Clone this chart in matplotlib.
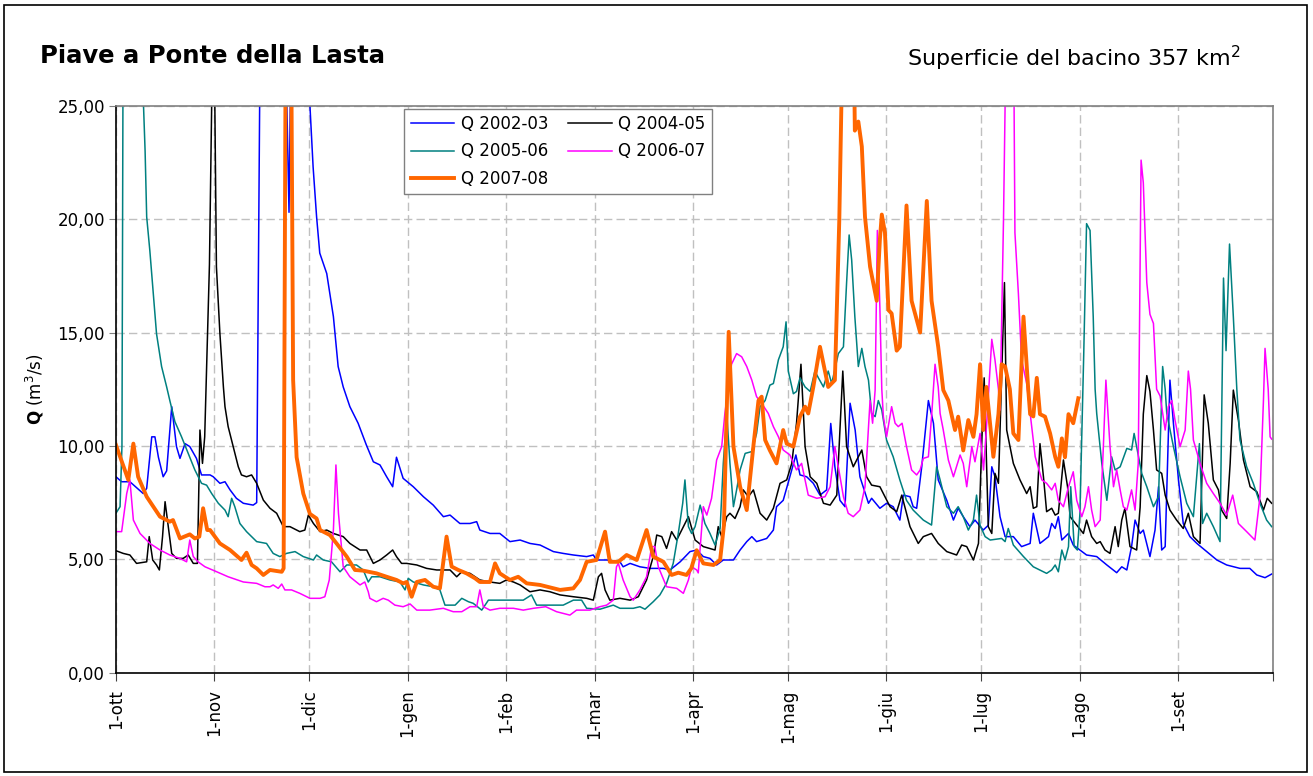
"""Daily discharge of the Piave at Ponte della Lasta, five hydrological years."""
import matplotlib.pyplot as plt
from matplotlib.patches import Rectangle
from matplotlib.ticker import FuncFormatter

# month starts of the hydrological year (days from 1 October)
MONTH_DAYS = [0, 31, 61, 92, 123, 151, 182, 212, 243, 273, 304, 335]
MONTH_LABELS = ['1-ott', '1-nov', '1-dic', '1-gen', '1-feb', '1-mar',
                '1-apr', '1-mag', '1-giu', '1-lug', '1-ago', '1-set']

# Q 2002-03
DAY_0203 = [0, 1.8, 4.4, 8.6, 9.7, 11.3, 12.3, 13.4, 14.9, 16, 17.6, 19.1, 20.2, 21.8,
            23.3, 25.4, 27, 29.7, 30.7, 32.8, 34.4, 36, 38, 40.2, 43.3, 44.4, 45.6, 53.2,
            54.6, 55.4, 60.6, 61.2, 62.2, 63.3, 64.3, 66.5, 68.6, 70.1, 71.7, 73.8, 76.4,
            79, 81.2, 83.3, 85.4, 87.3, 88.5, 90.6, 93.8, 97, 100.1, 103.3, 105.4, 108.5,
            111.7, 113.8, 114.8, 118, 121.1, 124.3, 127.5, 130.6, 133.8, 138, 141.1, 144.3,
            148.5, 150.6, 151.6, 154.8, 159, 160, 162.2, 165.3, 168.5, 172.7, 174.8, 178,
            181.1, 183.2, 185.3, 187.4, 189.5, 191.6, 194.8, 196.9, 199, 200.6, 202.1,
            205.3, 207.4, 208.4, 210.5, 212.6, 214.5, 215.8, 217.9, 220, 222.1, 224.2,
            225.5, 226.8, 228.4, 230, 231.6, 233.2, 234.7, 237.4, 238.4, 241, 243.1, 245.2,
            247.3, 248.4, 250.5, 251.5, 252.6, 254.2, 256.3, 257.9, 259.4, 262.1, 264.2,
            265.7, 267.3, 269.4, 271, 273.6, 275.2, 276.3, 277.3, 278.9, 280.5, 283.1,
            285.7, 288.4, 289.4, 291.5, 294.2, 295.2, 296.3, 297.3, 298.4, 300.5, 302,
            304.1, 306.2, 309.4, 312.6, 315.7, 317.3, 318.9, 320.4, 321.5, 323.1, 324.1,
            326.2, 327.8, 328.9, 329.9, 331, 332.5, 333.6, 335.2, 336.7, 338.8, 341, 344.1,
            347.3, 350.4, 354.6, 357.7, 359.9, 362.5, 364.6]
Q_0203 = [8.64, 8.42, 8.42, 7.9, 8.13, 10.4, 10.4, 9.5, 8.64, 8.9, 11.73, 9.97, 9.45, 10.1,
          9.97, 9.45, 8.72, 8.72, 8.64, 8.35, 8.42, 8.06, 7.69, 7.47, 7.39, 7.5, 30, 30,
          20.3, 30, 30, 25, 22.3, 20.1, 18.5, 17.6, 15.7, 13.5, 12.6, 11.73, 11.0,
          10.04, 9.3, 9.16, 8.64, 8.2, 9.5, 8.57, 8.2, 7.76, 7.39, 6.88, 6.95, 6.58,
          6.58, 6.66, 6.29, 6.14, 6.14, 5.78, 5.85, 5.7, 5.63, 5.34, 5.26, 5.19,
          5.12, 5.19, 4.97, 4.97, 4.89, 4.67, 4.82, 4.67, 4.6, 4.6, 4.53, 4.89,
          5.34, 5.41, 5.12, 5.04, 4.75, 4.97, 4.97, 5.41, 5.78, 6.0, 5.78,
          5.92, 6.29, 7.32, 7.6, 8.64, 9.6, 8.72, 8.64, 8.35, 7.83, 8.06,
          10.99, 9.08, 7.6, 7.32, 11.88, 10.7, 8.64, 7.47, 7.69, 7.25, 7.47, 7.32,
          6.73, 7.83, 7.76, 7.32, 7.25, 9.08, 12.0, 11.0, 8.5, 7.6, 6.73,
          7.25, 6.88, 6.44, 6.73, 6.29, 6.5, 9.08, 8.64, 6.88, 6.0, 6.0,
          5.56, 5.7, 7.03, 5.7, 6.0, 6.58, 6.36, 6.88, 5.85, 6.14, 5.63,
          5.41, 5.19, 5.12, 4.75, 4.41, 4.67, 4.53, 5.56, 6.73, 6.14, 6.29,
          5.12, 6.29, 8.2, 5.41, 5.56, 12.9, 11.0, 8.5, 6.58, 6.0, 5.7, 5.34,
          4.97, 4.75, 4.6, 4.6, 4.31, 4.19, 4.35]

# Q 2004-05
DAY_0405 = [0, 2.3, 4.4, 6.5, 9.7, 10.5, 11.6, 12.8, 13.7, 14.7, 15.5, 16.5, 17.6, 19.1,
            21.2, 22.8, 24.4, 25.7, 26.5, 27.3, 28.0, 29.5, 30.4, 31.2, 31.7, 32.8, 33.9,
            34.4, 35.4, 37, 38.6, 39.6, 41.2, 42.8, 44.4, 46.5, 48.6, 50.7, 52.8, 54.9, 58,
            59.6, 60.7, 62.3, 64.4, 66.5, 68.6, 71.7, 73.8, 77, 79.1, 81.2, 83.3, 85.4,
            87.3, 88.5, 90.1, 91.7, 94.9, 98, 101.2, 105.4, 107.5, 109.1, 111.7, 114.8,
            118, 121.1, 123.2, 125.4, 127.5, 130.6, 133.8, 136.9, 140.1, 144.3, 148.5,
            150.6, 152.2, 153.2, 154.3, 155.8, 159, 162.2, 164.8, 167.4, 169.5, 170.6,
            172.2, 173.7, 175.3, 176.9, 179, 180.6, 182.7, 185.3, 189, 190, 191.1, 192.7,
            193.7, 195.3, 196.9, 197.9, 199.5, 201.1, 203.2, 205.3, 207.4, 209.5, 211.6,
            213.2, 214.7, 216.1, 217.4, 219, 221.1, 223.2, 225.3, 227.4, 229.3, 230.5,
            232.6, 235.3, 236.8, 238.4, 241, 242.6, 244.2, 246.3, 247.9, 250.5, 253.1,
            254.7, 257.3, 259.4, 262.1, 265.2, 266.8, 268.4, 270.5, 272.1, 273.1, 273.9,
            275.2, 276.3, 277.3, 278.4, 280.3, 281, 283.1, 285.2, 287.3, 288.4, 289.4,
            290.5, 291.5, 292.6, 293.6, 295.2, 296.3, 297.3, 298.9, 300.2, 301, 303.1,
            305.2, 306.2, 307.8, 309.4, 310.5, 312, 313.6, 315.2, 316.2, 317.3, 318.3,
            319.9, 322, 323.1, 324.1, 325.2, 326.2, 327.3, 328.3, 329.9, 331, 332.5, 334.6,
            336.7, 338.3, 339.9, 342, 343.3, 344.6, 346.2, 347.8, 348.8, 350.4, 351.5,
            352.5, 354.1, 355.7, 357.8, 359.9, 362, 363.2, 364.6]
Q_0405 = [5.38, 5.26, 5.19, 4.82, 4.89, 6.0, 4.97, 4.75, 4.53, 6.0, 7.54, 6.44, 5.26, 5.04,
          5.04, 5.19, 4.82, 4.82, 10.7, 9.23, 10.4, 18, 27, 25, 17.9, 14.95, 12.6,
          11.73, 10.85, 9.97, 9.08, 8.72, 8.64, 8.72, 8.35, 7.61, 7.25, 7.03, 6.44, 6.44, 6.22,
          6.29, 6.95, 6.58, 6.22, 6.29, 6.14, 6.0, 5.7, 5.41, 5.41, 4.82, 4.97, 5.19,
          5.41, 5.12, 4.82, 4.82, 4.75, 4.6, 4.53, 4.53, 4.23, 4.45, 4.38, 4.09,
          4.0, 3.94, 4.09, 4.0, 3.87, 3.57, 3.65, 3.57, 3.43, 3.35, 3.28,
          3.2, 4.23, 4.38, 3.65, 3.2, 3.28, 3.2, 3.35, 4.09, 5.12, 6.07,
          6.0, 5.48, 6.22, 5.85, 6.44, 6.88, 5.85, 5.56, 5.41, 6.44, 6.0, 6.88,
          7.03, 6.8, 7.32, 8.06, 7.76, 8.06, 7.03, 6.73, 7.25, 8.35, 8.5,
          9.23, 11.0, 13.6, 9.97, 8.64, 8.35, 7.47, 7.39, 7.83, 13.3, 9.97,
          9.08, 9.82, 8.64, 8.27, 8.2, 7.76, 7.32, 7.1, 7.83, 6.44, 5.7,
          6.0, 6.14, 5.7, 5.34, 5.19, 5.63, 5.56, 4.97, 5.7, 10.0, 13.0,
          6.44, 6.14, 8.79, 8.35, 17.2, 10.7, 9.23, 8.5, 7.9, 8.2, 7.25,
          7.32, 10.1, 8.64, 7.1, 7.25, 6.95, 7.03, 9.38, 8.2, 6.88, 6.51,
          6.14, 6.73, 6.0, 5.7, 5.78, 5.41, 5.26, 6.44, 5.56, 6.73, 7.25,
          5.56, 5.41, 7.3, 11.4, 13.1, 12.4, 10.7, 8.94, 8.79, 7.83, 7.17, 6.73,
          6.36, 7.03, 6.0, 5.7, 12.25, 11.0, 8.5, 8.06, 7.17, 6.8, 9.23,
          12.46, 11.14, 9.38, 8.2, 7.98, 7.17, 7.69, 7.47]

# Q 2005-06
DAY_0506 = [0, 1.3, 1.9, 2.3, 8.4, 8.7, 9.2, 9.7, 10.7, 11.8, 12.8, 14.4, 16, 17, 18.6,
            20.7, 22.8, 24.9, 27, 28.6, 30.2, 32.3, 34.4, 35.4, 36.5, 37.5, 39.1, 41.2, 44.4,
            47.5, 49.6, 51.7, 53.8, 56.5, 59.1, 62.3, 63.3, 65.4, 68, 70.7, 72.8, 75.9, 78,
            79.6, 80.7, 83.3, 86.4, 89.6, 91.2, 92.2, 93.8, 97, 100.1, 102.2, 103.8, 107,
            109.1, 111.2, 112.7, 115.4, 117.5, 121.1, 125.4, 128.5, 131.1, 132.7, 136.9,
            141.1, 144.3, 146.9, 148.5, 152.7, 156.9, 159, 163.2, 165.3, 166.9, 169.5,
            171.6, 173.7, 175.8, 177.4, 178.8, 179.5, 180.6, 181.6, 182.7, 184.3, 185.8,
            187.4, 189, 190.6, 191.6, 192.7, 193.7, 194.8, 195.8, 196.9, 198.5, 200.6,
            202.1, 203.2, 204.8, 206.3, 207.4, 209, 210.5, 211.4, 212.1, 213.7, 214.7,
            215.8, 217.4, 219, 220.5, 221.6, 223.2, 224.7, 225.8, 227.9, 229.5, 230.5,
            231.3, 232.1, 233.1, 234.2, 235.3, 236.3, 237.4, 238.4, 239.5, 240.5, 241.6,
            243.1, 245.2, 247.3, 249.4, 251.5, 254.7, 257.3, 258.9, 260, 262.1, 264.2,
            265.7, 267.3, 268.9, 270.5, 271.5, 272.6, 274.2, 275.8, 279.4, 280.5, 281.5,
            283.1, 286.3, 289.4, 292.6, 293.6, 295.2, 296.3, 297.3, 298.4, 299.4, 300.5,
            301.2, 302.3, 303.3, 304.1, 305.3, 306.2, 307.3, 308.3, 308.9, 309.4, 311,
            312.6, 314.1, 315.2, 316.8, 318.9, 320.4, 321.2, 322, 323.6, 325.2, 327.3,
            328.9, 330.2, 331, 331.5, 333.6, 335.7, 337.8, 339.9, 341.8, 342.8, 344.1,
            346.2, 348.3, 349.4, 350.2, 351.3, 352.5, 353.6, 354.6, 356.7, 358.8, 360.9,
            363, 364.6]
Q_0506 = [7.03, 7.32, 10, 30, 30, 25, 23.0, 20.1, 18.6, 16.7, 14.95, 13.5, 12.6, 12.0, 11.07,
          10.4, 9.67, 8.94, 8.35, 8.27, 7.9, 7.47, 7.17, 6.88, 7.69, 7.32, 6.58, 6.22, 5.78,
          5.7, 5.26, 5.12, 5.26, 5.34, 5.12, 4.97, 5.19, 4.97, 4.89, 4.45, 4.75, 4.75, 4.53,
          4.0, 4.23, 4.23, 4.09, 4.0, 3.65, 4.16, 4.0, 3.87, 3.79, 3.65, 2.98, 2.98,
          3.28, 3.13, 3.06, 2.76, 3.2, 3.2, 3.2, 3.2, 3.43, 2.98, 2.98,
          2.98, 3.2, 3.2, 2.84, 2.8, 2.98, 2.84, 2.84, 2.91, 2.8, 3.13,
          3.43, 3.94, 4.82, 6.14, 7.47, 8.5, 6.44, 6.14, 6.44, 7.39, 6.58,
          6.14, 5.63, 6.36, 9.23, 11.43, 9.23, 7.32, 8.06, 8.94, 9.67, 9.75,
          10.55, 11.73, 12.0, 12.68, 12.75, 13.8, 14.37, 15.47, 13.3, 12.3, 12.4,
          13.0, 12.6, 12.4, 13.3, 13.0, 12.6, 13.3, 12.75, 14.07, 14.37, 17.2,
          19.3, 18.2, 15.7, 13.5, 14.3, 13.5, 12.9, 11.43, 11.29, 12.0, 11.58,
          10.26, 9.52, 8.5, 7.6, 7.17, 6.73, 6.51, 9.08, 8.5, 7.32, 7.03,
          7.32, 6.88, 6.29, 6.73, 7.83, 6.5, 6.0, 5.85, 5.92, 5.78, 6.36,
          5.63, 5.12, 4.67, 4.45, 4.38, 4.53, 4.75, 4.45, 5.41, 4.97, 5.56,
          8.2, 5.56, 5.41, 7.0, 14, 19.8, 19.5, 15.7, 12.5, 11.43, 9.23,
          7.6, 9.52, 8.94, 9.08, 9.89, 9.82, 10.55, 9.97, 8.79, 8.2, 7.32,
          7.76, 13.5, 12.5, 11.43, 9.97, 8.64, 7.47, 6.88, 10.1, 6.58, 7.03,
          6.44, 5.78, 17.4, 14.2, 18.9, 15.7, 12.5, 10.26, 9.08, 8.35, 7.47,
          6.73, 6.44]

# Q 2006-07
DAY_0607 = [0, 1.8, 3.4, 4.4, 5.5, 7.6, 10.7, 13.9, 17, 20.2, 22.3, 23.3, 24.4, 25.9, 28.1,
            31.8, 35.4, 40.2, 44.4, 47, 48.6, 49.6, 51.2, 52.3, 53.3, 55.4, 58, 61.2, 64.4,
            65.9, 67.3, 68.6, 69.4, 70.2, 71.7, 73.8, 77, 78.5, 79.6, 80.1, 82.2, 84.3,
            85.9, 88, 90.6, 92.8, 94.9, 99, 103.3, 106.4, 109.1, 111.7, 113.8, 114.8,
            115.9, 118, 121.1, 125.4, 128.5, 131.7, 135.6, 139, 143.2, 145.3, 149.5,
            152.7, 154.8, 156.9, 157.9, 158.5, 160, 162.2, 163.2, 165.3, 167.4, 169, 170,
            171.1, 173.7, 176.9, 179, 180.6, 181.6, 183.2, 183.7, 185.3, 186.4, 187.9,
            189.5, 191.1, 192.1, 193.2, 194.2, 195.8, 197.4, 199, 200.6, 202.1, 203.7,
            205.8, 207.4, 209, 210.5, 212.6, 214.7, 216.3, 217.4, 218.4, 221.1, 223.7,
            225.3, 226.8, 227.9, 229.5, 231, 232.6, 234.7, 236.3, 237.9, 238.7, 239.5,
            240.2, 241, 241.6, 242.1, 243.1, 244.7, 245.8, 246.8, 248, 249.4, 251, 252.6,
            253.7, 254.7, 256.3, 257.3, 258.4, 259.4, 260, 261, 262.6, 264.2, 266.3, 267.3,
            268.4, 270, 271, 272.6, 273.7, 274.7, 276.3, 277.3, 278.4, 278.9, 280, 281,
            283.1, 283.6, 284.7, 285.7, 287.3, 288.4, 290, 292.1, 293.6, 295.2, 296.3,
            297.3, 298.9, 300.5, 302, 303.1, 304.7, 305.7, 306.8, 307.8, 308.9, 310.5,
            311.5, 312.3, 313.6, 314.7, 315.7, 316.8, 317.8, 318.9, 320.4, 321.5, 322.5,
            323.4, 324.1, 325.2, 326.2, 327.3, 328.3, 329.4, 331, 332, 333.1, 334.1, 335.7,
            337.3, 338.3, 339, 339.9, 342, 344.1, 346.2, 348.3, 350.4, 352.3, 354.1, 356.7,
            359.3, 360.9, 362, 362.5, 363.5, 364.1, 364.6]
Q_0607 = [6.22, 6.22, 7.9, 8.5, 6.73, 6.14, 5.7, 5.41, 5.19, 5.04, 4.89, 5.85, 5.12, 4.89, 4.67,
          4.45, 4.23, 4.0, 3.94, 3.79, 3.79, 3.87, 3.72, 3.91, 3.65, 3.65, 3.5, 3.28, 3.28,
          3.35, 4.09, 6.29, 9.16, 7.03, 4.67, 4.23, 3.87, 4.0, 3.57, 3.28, 3.13, 3.28,
          3.2, 2.98, 2.91, 3.03, 2.76, 2.76, 2.84, 2.69, 2.69, 2.91, 2.91, 3.65,
          2.91, 2.76, 2.84, 2.84, 2.76, 2.84, 2.91, 2.69, 2.54, 2.76, 2.76,
          2.91, 2.98, 3.2, 4.67, 4.82, 4.09, 3.35, 3.2, 3.65, 4.23, 5.56, 5.56,
          4.67, 3.79, 3.72, 3.5, 4.09, 4.67, 4.53, 4.4, 7.32, 6.95, 7.69,
          9.38, 9.97, 11.43, 12.6, 13.6, 14.07, 13.93, 13.5, 12.9, 12.17, 11.88,
          11.43, 10.85, 10.4, 9.82, 9.6, 8.94, 9.23, 8.5, 7.83, 7.69, 7.76,
          8.2, 9.97, 9.08, 7.76, 7.03, 6.88, 7.17, 8.2, 12.0, 11.0, 12.46,
          19.5, 16.1, 12.5, 11.29, 10.4, 11.73, 11.0, 10.85, 11.0, 9.97, 8.94, 8.72,
          8.94, 9.45, 9.52, 11.29, 13.6, 12.6, 11.43, 10.7, 9.38, 8.64, 9.6, 9.23,
          8.2, 9.97, 9.3, 10.55, 8.94, 11.0, 14.7, 13.8, 12.5, 11.58, 20, 30,
          30, 19.4, 16.7, 13.8, 12.76, 11.43, 9.52, 8.5, 8.35, 8.06, 8.35,
          7.6, 7.32, 8.2, 8.86, 7.6, 6.88, 7.32, 8.2, 7.17, 6.44, 6.73,
          9.97, 12.9, 9.97, 8.2, 8.94, 8.06, 7.32, 7.17, 8.06, 7.17, 9.23,
          22.6, 21.6, 17.2, 15.8, 15.4, 12.5, 12.2, 10.7, 11.73, 12.0, 11.14, 9.97,
          10.7, 13.3, 12.5, 10.26, 9.23, 8.35, 7.9, 7.47, 6.95, 7.83, 6.58, 6.22,
          5.85, 7.76, 12.0, 14.3, 12.5, 10.4, 10.3]

# Q 2007-08 (record stops at 1 August)
DAY_0708 = [0, 3.9, 5.5, 7, 9.7, 13.9, 17, 18, 20.2, 23.3, 24.9, 26.3, 27.5, 28.8, 29.7,
            32.8, 36, 39.6, 41.2, 42.8, 44.4, 46.5, 48.6, 52.3, 52.9, 53.6, 55.2, 55.9, 57.0,
            59.1, 61.2, 63.3, 64.4, 67.5, 69.6, 72.8, 75.4, 78, 82.2, 85.4, 88.5, 90.6,
            91.7, 93.3, 94.9, 97.5, 100.1, 102.2, 104.3, 105.9, 108, 110.6, 113.3, 114.8,
            118, 119.6, 121.1, 124.3, 126.9, 129.6, 133.8, 138, 140.1, 144.3, 146.4, 148.5,
            151.6, 154.3, 155.8, 158.5, 161.1, 164.3, 167.4, 169.5, 172.7, 175.3, 177.4,
            180, 181.5, 183.2, 185.3, 188.5, 190.6, 191.8, 193.3, 194.8, 196.9, 199, 200,
            201.1, 202.7, 203.7, 204.8, 206.3, 208.4, 210.5, 211.6, 213.7, 215.8, 217.4,
            218.4, 220, 222.1, 224.7, 226.8, 228.2, 229.5, 232.6, 233.1, 234.2, 235.3,
            236.3, 237.9, 240, 241, 241.6, 242.6, 243.7, 244.7, 246.3, 247.3, 249.4, 251,
            253.7, 255.8, 257.3, 259.4, 261, 262.6, 264.7, 265.7, 267.3, 268.9, 270.5,
            271.5, 272.6, 273.6, 274.6, 276.8, 278.4, 279.4, 280.5, 282, 283.1, 284.7,
            286.3, 287.8, 288.4, 289.4, 290.5, 291.5, 293.1, 294.7, 296.3, 297.3, 298.4,
            299.4, 300.5, 302, 303.6]
Q_0708 = [10.04, 8.5, 10.1, 8.64, 7.76, 6.88, 6.66, 6.73, 5.92, 6.1, 5.92, 6.0, 7.25, 6.29, 6.29,
          5.7, 5.41, 4.97, 5.29, 4.75, 4.6, 4.31, 4.53, 4.45, 4.6, 30, 30, 12.9, 9.5,
          7.9, 7.0, 6.8, 6.29, 6.07, 5.7, 5.12, 4.53, 4.5, 4.38, 4.23, 4.09, 3.94,
          4.0, 3.35, 4.0, 4.09, 3.79, 3.72, 6.0, 4.68, 4.53, 4.38, 4.16, 4.0,
          4.0, 4.82, 4.38, 4.09, 4.23, 3.94, 3.87, 3.72, 3.65, 3.72, 4.09, 4.89,
          4.97, 6.22, 4.89, 4.89, 5.19, 4.97, 6.29, 5.12, 4.89, 4.31, 4.41,
          4.31, 4.6, 5.4, 4.82, 4.75, 4.97, 6.5, 15.03, 9.97, 8.2, 7.17, 8.5,
          10.0, 12.0, 12.17, 10.26, 9.8, 9.23, 10.7, 10.1, 9.97, 11.29, 11.73,
          11.43, 12.6, 14.37, 12.6, 12.9, 20, 30, 30, 23.9, 24.3, 23.2,
          20.1, 17.9, 16.4, 19.1, 20.2, 19.4, 15.99, 15.84, 14.2, 14.37, 20.6, 16.4,
          15.0, 20.8, 16.4, 14.37, 12.46, 12.0, 10.7, 11.29, 9.8, 11.14, 10.4,
          11.4, 13.6, 10.7, 12.6, 9.52, 11.4, 13.6, 13.5, 12.5, 10.55, 10.26,
          15.7, 12.5, 11.4, 11.3, 13.0, 11.4, 11.29, 10.55, 9.52, 9.08, 10.33,
          9.5, 11.4, 11.0, 12.1]

SERIES = [
    ('Q 2002-03', DAY_0203, Q_0203, '#0000FF', 1.1),
    ('Q 2004-05', DAY_0405, Q_0405, '#000000', 1.1),
    ('Q 2005-06', DAY_0506, Q_0506, '#008080', 1.1),
    ('Q 2006-07', DAY_0607, Q_0607, '#FF00FF', 1.1),
    ('Q 2007-08', DAY_0708, Q_0708, '#FF6600', 2.8),
]


def comma_fmt(val, pos):
    """Italian style decimal comma for the y ticks."""
    return f'{val:.2f}'.replace('.', ',')


def main():
    plt.rcParams['font.family'] = ['DejaVu Sans']
    plt.rcParams['mathtext.fontset'] = 'dejavusans'

    fig = plt.figure(figsize=(13.13, 7.76), dpi=100)
    ax = fig.add_axes([0.0883, 0.1331, 0.8812, 0.7307])

    lines = {}
    for label, days, q, color, lw in SERIES:
        line, = ax.plot(days, q, color=color, lw=lw, label=label,
                        solid_joinstyle='round')
        lines[label] = line

    ax.set_xlim(0, 365)
    ax.set_ylim(0, 25)
    ax.set_xticks(MONTH_DAYS + [365])
    ax.set_xticklabels(MONTH_LABELS + [''], rotation=90, fontsize=12)
    ax.set_yticks(range(0, 26, 5))
    ax.yaxis.set_major_formatter(FuncFormatter(comma_fmt))
    ax.tick_params(axis='y', labelsize=12, length=5, color='#808080', pad=3)
    ax.tick_params(axis='x', length=6, color='#404040', pad=6)

    ax.grid(True, color='#c0c0c0', linestyle=(0, (6, 3)), lw=1)
    ax.set_axisbelow(True)
    for side in ('left', 'bottom'):
        ax.spines[side].set_color('#000000')
        ax.spines[side].set_linewidth(1.2)
    for side in ('top', 'right'):
        ax.spines[side].set_color('#808080')
        ax.spines[side].set_linewidth(1.2)

    ax.set_ylabel(r'$\mathbf{Q}$ (m$^3$/s)', fontsize=12, labelpad=8)

    order = ['Q 2002-03', 'Q 2005-06', 'Q 2007-08', 'Q 2004-05', 'Q 2006-07']
    leg = ax.legend([lines[k] for k in order], order, ncol=2, loc='upper left',
                    bbox_to_anchor=(0.249, 0.995), fontsize=12, frameon=True,
                    fancybox=False, framealpha=1, edgecolor='#808080',
                    handlelength=2.6, handletextpad=0.4, columnspacing=1.2,
                    labelspacing=0.55, borderpad=0.4, borderaxespad=0)
    leg.get_frame().set_linewidth(1.0)

    fig.text(40 / 1313, 1 - 56 / 776, 'Piave a Ponte della Lasta', fontsize=17.5,
             fontweight='bold', ha='left', va='center')
    fig.text(1240 / 1313, 1 - 58 / 776, 'Superficie del bacino 357 km$^2$',
             fontsize=16, ha='right', va='center')

    fig.patches.append(Rectangle((4 / 1313, 4 / 776), 1303 / 1313, 767 / 776,
                                 transform=fig.transFigure, fill=False,
                                 edgecolor='#000000', lw=1.2))

    fig.savefig('out.png', dpi=100)


if __name__ == '__main__':
    main()
